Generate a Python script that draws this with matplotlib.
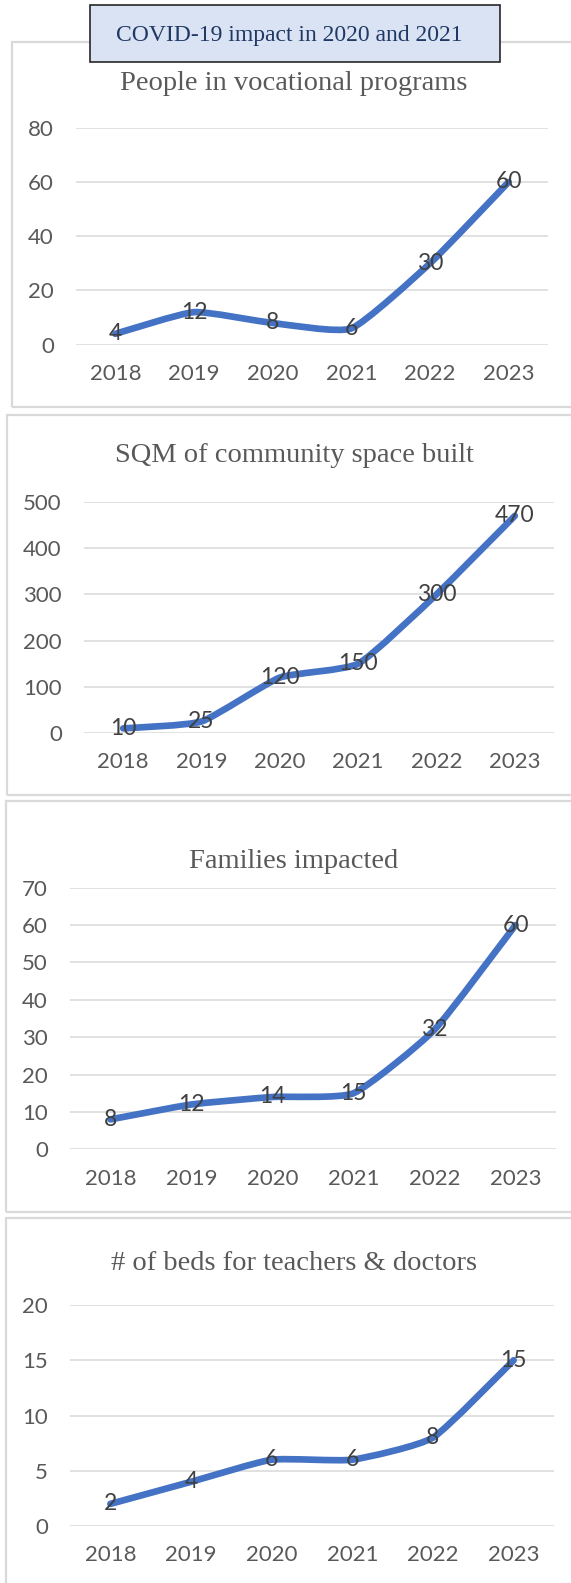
import matplotlib
matplotlib.use("Agg")
import matplotlib.pyplot as plt
from matplotlib.patches import Rectangle, PathPatch
from matplotlib.path import Path

W, H = 571, 1583

years = ["2018", "2019", "2020", "2021", "2022", "2023"]
vocational = [4, 12, 8, 6, 30, 60]
sqm_built = [10, 25, 120, 150, 300, 470]
families = [8, 12, 14, 15, 32, 60]
beds = [2, 4, 6, 6, 8, 15]

titles = ["People in vocational programs", "SQM of community space built",
          "Families impacted", "# of beds for teachers & doctors"]
series = [vocational, sqm_built, families, beds]
yticks = [[0, 20, 40, 60, 80], [0, 100, 200, 300, 400, 500],
          [0, 10, 20, 30, 40, 50, 60, 70], [0, 5, 10, 15, 20]]

# pixel layout: plot area (x0, x1, ytop, ybottom), panel box (x, ytop, ybottom), title y
plot_px = [(76, 548, 127.7, 344.7), (84, 554, 502, 733),
           (70, 556, 887.7, 1149.3), (70, 554, 1305, 1526)]
box_px = [(12, 42, 407), (7, 415, 795), (6, 801, 1212), (6, 1218, 1600)]
title_y = [83, 456, 861, 1264]

line_col = "#4472C4"
grid_col = "#D9D9D9"
tick_col = "#595959"
lbl_col = "#404040"
tick_font = "Lato"
serif = "Liberation Serif"

fig = plt.figure(figsize=(W / 100, H / 100), dpi=100)


def fx(x):
    return x / W


def fy(y):
    return 1 - y / H


def smooth_path(xs, ys, t=1 / 12):
    # mildly smoothed line (like excel's smooth option), as cubic beziers
    n = len(xs)
    verts = [(xs[0], ys[0])]
    codes = [Path.MOVETO]
    for k in range(n - 1):
        xa, ya = xs[max(k - 1, 0)], ys[max(k - 1, 0)]
        xb, yb = xs[min(k + 2, n - 1)], ys[min(k + 2, n - 1)]
        c1 = (xs[k] + (xs[k + 1] - xa) * t, ys[k] + (ys[k + 1] - ya) * t)
        c2 = (xs[k + 1] - (xb - xs[k]) * t, ys[k + 1] - (yb - ys[k]) * t)
        verts += [c1, c2, (xs[k + 1], ys[k + 1])]
        codes += [Path.CURVE4, Path.CURVE4, Path.CURVE4]
    return Path(verts, codes)


for i in range(4):
    bx, btop, bbot = box_px[i]
    fig.patches.append(Rectangle((fx(bx), fy(bbot)), fx(600 - bx), (bbot - btop) / H,
                                 transform=fig.transFigure, fill=False,
                                 edgecolor=grid_col, linewidth=1.6, zorder=0))

    x0, x1, yt, yb = plot_px[i]
    ax = fig.add_axes([fx(x0), fy(yb), fx(x1 - x0), (yb - yt) / H])
    xs = list(range(len(years)))
    ax.add_patch(PathPatch(smooth_path(xs, series[i]), fill=False, edgecolor=line_col,
                           linewidth=4.8, capstyle="round", joinstyle="round", zorder=3))
    for x, v in zip(xs, series[i]):
        ax.text(x, v, str(v), ha="center", va="center", fontsize=16.5,
                family=tick_font, color=lbl_col, zorder=4)

    ax.set_xlim(-0.5, len(years) - 0.5)
    ax.set_ylim(yticks[i][0], yticks[i][-1])
    ax.set_xticks(xs)
    ax.set_xticklabels(years)
    ax.set_yticks(yticks[i])
    ax.grid(axis="y", color=grid_col, linewidth=1.1)
    ax.set_axisbelow(True)
    for s in ax.spines.values():
        s.set_visible(False)
    ax.tick_params(length=0, colors=tick_col, labelsize=16)
    ax.tick_params(axis="y", pad=16)
    ax.tick_params(axis="x", pad=14)
    for lab in ax.get_xticklabels() + ax.get_yticklabels():
        lab.set_family(tick_font)
    ax.patch.set_alpha(0)

    fig.text(fx(294), fy(title_y[i]), titles[i], ha="center", va="center",
             fontsize=20.5, family=serif, color="#595959")

# header box
fig.patches.append(Rectangle((fx(90), fy(62)), fx(500 - 90), 57 / H,
                             transform=fig.transFigure, facecolor="#DAE3F3",
                             edgecolor="#262626", linewidth=1.2, zorder=5))
fig.text(fx(116), fy(35), "COVID-19 impact in 2020 and 2021", ha="left",
         va="center", fontsize=17, family=serif, color="#1F3864", zorder=6)

fig.savefig("out.png", dpi=100, facecolor="white")
